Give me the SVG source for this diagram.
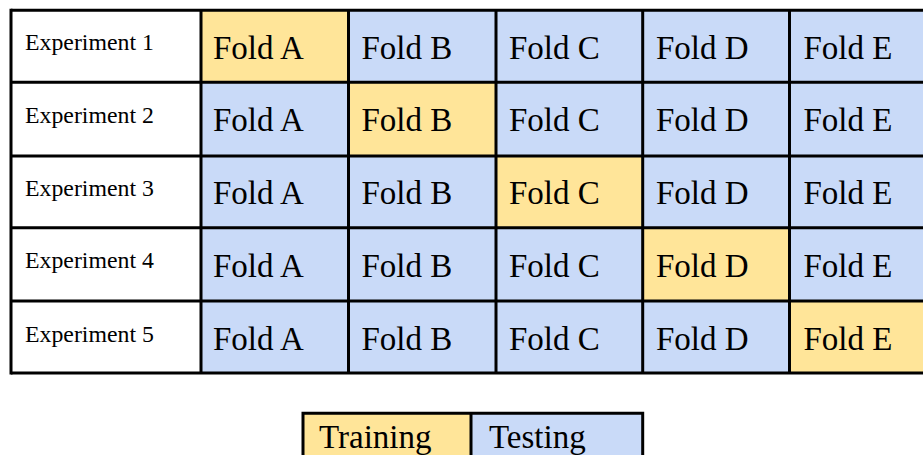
<svg xmlns="http://www.w3.org/2000/svg" width="923" height="455" viewBox="0 0 923 455">
<style>
.exp{font-family:"Liberation Serif","Times New Roman",serif;font-size:23.8px;fill:#000}
.fold{font-family:"Liberation Serif","Times New Roman",serif;font-size:33px;fill:#000}
.tr{fill:#FFE599}
.te{fill:#C9DAF8}
.wh{fill:#FFFFFF}
.grid{stroke:#000;stroke-width:3;fill:none}
</style>
<rect x="0" y="0" width="923" height="455" fill="#FFFFFF"/>
<g id="row1">
<g id="exp1"><rect class="wh" x="11" y="10.3" width="190" height="72"/><text class="exp" x="25" y="50">Experiment 1</text></g>
<g id="r1a"><rect class="tr" x="201" y="10.3" width="147.5" height="72"/><text class="fold" x="213" y="58.5">Fold A</text></g>
<g id="r1b"><rect class="te" x="348.5" y="10.3" width="147.5" height="72"/><text class="fold" x="361.5" y="58.5">Fold B</text></g>
<g id="r1c"><rect class="te" x="496" y="10.3" width="146.7" height="72"/><text class="fold" x="509" y="58.5">Fold C</text></g>
<g id="r1d"><rect class="te" x="642.7" y="10.3" width="146.8" height="72"/><text class="fold" x="656" y="58.5">Fold D</text></g>
<g id="r1e"><rect class="te" x="789.5" y="10.3" width="150" height="72"/><text class="fold" x="803.5" y="58.5">Fold E</text></g>
</g>
<g id="row2">
<g id="exp2"><rect class="wh" x="11" y="82.3" width="190" height="73.7"/><text class="exp" x="25" y="122.5">Experiment 2</text></g>
<g id="r2a"><rect class="te" x="201" y="82.3" width="147.5" height="73.7"/><text class="fold" x="213" y="130.5">Fold A</text></g>
<g id="r2b"><rect class="tr" x="348.5" y="82.3" width="147.5" height="73.7"/><text class="fold" x="361.5" y="130.5">Fold B</text></g>
<g id="r2c"><rect class="te" x="496" y="82.3" width="146.7" height="73.7"/><text class="fold" x="509" y="130.5">Fold C</text></g>
<g id="r2d"><rect class="te" x="642.7" y="82.3" width="146.8" height="73.7"/><text class="fold" x="656" y="130.5">Fold D</text></g>
<g id="r2e"><rect class="te" x="789.5" y="82.3" width="150" height="73.7"/><text class="fold" x="803.5" y="130.5">Fold E</text></g>
</g>
<g id="row3">
<g id="exp3"><rect class="wh" x="11" y="156" width="190" height="71.7"/><text class="exp" x="25" y="195.5">Experiment 3</text></g>
<g id="r3a"><rect class="te" x="201" y="156" width="147.5" height="71.7"/><text class="fold" x="213" y="203.5">Fold A</text></g>
<g id="r3b"><rect class="te" x="348.5" y="156" width="147.5" height="71.7"/><text class="fold" x="361.5" y="203.5">Fold B</text></g>
<g id="r3c"><rect class="tr" x="496" y="156" width="146.7" height="71.7"/><text class="fold" x="509" y="203.5">Fold C</text></g>
<g id="r3d"><rect class="te" x="642.7" y="156" width="146.8" height="71.7"/><text class="fold" x="656" y="203.5">Fold D</text></g>
<g id="r3e"><rect class="te" x="789.5" y="156" width="150" height="71.7"/><text class="fold" x="803.5" y="203.5">Fold E</text></g>
</g>
<g id="row4">
<g id="exp4"><rect class="wh" x="11" y="227.7" width="190" height="73.3"/><text class="exp" x="25" y="268">Experiment 4</text></g>
<g id="r4a"><rect class="te" x="201" y="227.7" width="147.5" height="73.3"/><text class="fold" x="213" y="276.5">Fold A</text></g>
<g id="r4b"><rect class="te" x="348.5" y="227.7" width="147.5" height="73.3"/><text class="fold" x="361.5" y="276.5">Fold B</text></g>
<g id="r4c"><rect class="te" x="496" y="227.7" width="146.7" height="73.3"/><text class="fold" x="509" y="276.5">Fold C</text></g>
<g id="r4d"><rect class="tr" x="642.7" y="227.7" width="146.8" height="73.3"/><text class="fold" x="656" y="276.5">Fold D</text></g>
<g id="r4e"><rect class="te" x="789.5" y="227.7" width="150" height="73.3"/><text class="fold" x="803.5" y="276.5">Fold E</text></g>
</g>
<g id="row5">
<g id="exp5"><rect class="wh" x="11" y="301" width="190" height="72"/><text class="exp" x="25" y="341.5">Experiment 5</text></g>
<g id="r5a"><rect class="te" x="201" y="301" width="147.5" height="72"/><text class="fold" x="213" y="350">Fold A</text></g>
<g id="r5b"><rect class="te" x="348.5" y="301" width="147.5" height="72"/><text class="fold" x="361.5" y="350">Fold B</text></g>
<g id="r5c"><rect class="te" x="496" y="301" width="146.7" height="72"/><text class="fold" x="509" y="350">Fold C</text></g>
<g id="r5d"><rect class="te" x="642.7" y="301" width="146.8" height="72"/><text class="fold" x="656" y="350">Fold D</text></g>
<g id="r5e"><rect class="tr" x="789.5" y="301" width="150" height="72"/><text class="fold" x="803.5" y="350">Fold E</text></g>
</g>
<g id="table-grid" class="grid">
<path d="M11 10.3H940M11 82.3H940M11 156H940M11 227.7H940M11 301H940M11 373H940"/>
<path d="M11 8.8V374.5M201 10.3V373M348.5 10.3V373M496 10.3V373M642.7 10.3V373M789.5 10.3V373"/>
</g>
<g id="legend">
<g id="legend-training"><rect class="tr" x="303" y="413.3" width="168" height="50"/><text class="fold" x="319" y="448">Training</text></g>
<g id="legend-testing"><rect class="te" x="471" y="413.3" width="171.7" height="50"/><text class="fold" x="489" y="448">Testing</text></g>
<g class="grid"><path d="M303 413.3H642.7M303 411.8V460M471 413.3V460M642.7 411.8V460"/></g>
</g>
</svg>
